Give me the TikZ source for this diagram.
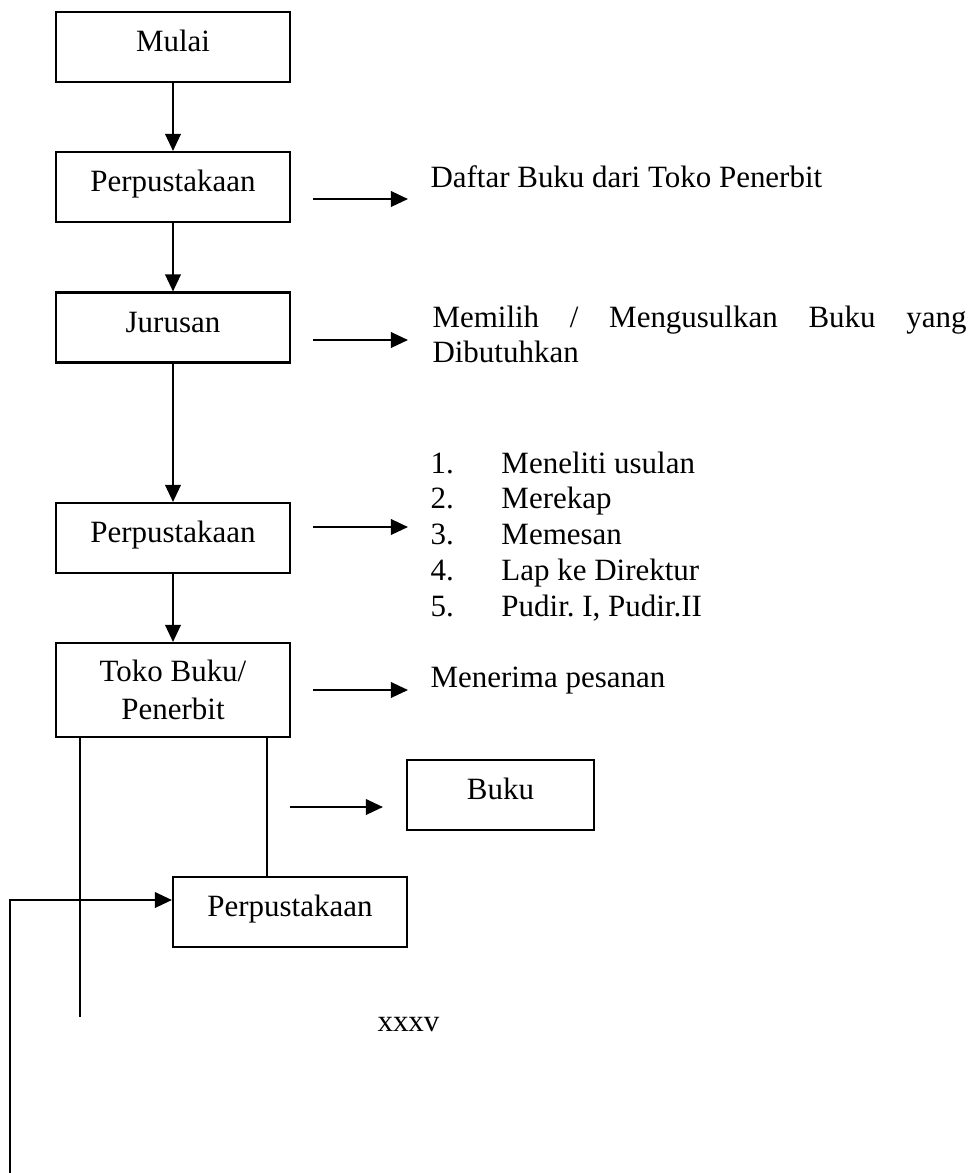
\documentclass[tikz,border=0pt]{standalone}
\usepackage{fontspec}
\setmainfont{Liberation Serif}
\usetikzlibrary{arrows.meta}
\frenchspacing
\newdimen\pxu
\pxu=0.3875pt
\tikzset{
  every node/.style={font=\fontsize{12pt}{13.9pt}\selectfont},
  flowbox/.style={draw, line width=0.8pt, rectangle, minimum width=234\pxu,
    minimum height=70\pxu, inner sep=0pt, text height=8.5pt, text depth=5pt},
  twobox/.style={draw, line width=0.8pt, rectangle, minimum width=234\pxu,
    minimum height=94\pxu, inner sep=0pt, align=center},
  sidetext/.style={anchor=base west, inner sep=0pt},
  flow/.style={line width=0.8pt, -{Triangle[length=6.6pt,width=6pt]}},
  plain/.style={line width=0.8pt}
}
\begin{document}
\begin{tikzpicture}[x=\pxu, y=-\pxu]
\useasboundingbox (0,0) rectangle (975,1173);

% main column of steps
\node[flowbox] (mulai) at (173,47)    {Mulai};
\node[flowbox] (perp1) at (173,187)   {Perpustakaan};
\node[flowbox] (jur)   at (173,327.5) {Jurusan};
\node[flowbox] (perp2) at (173,538)   {Perpustakaan};
\node[twobox]  (toko)  at (173,690)   {Toko Buku/\\[0.8pt]Penerbit};
\node[flowbox, minimum width=187\pxu] (buku) at (500.5,795) {Buku};
\node[flowbox] (perp3) at (290,912)   {Perpustakaan};

% notes to the right of the steps
\node[sidetext] (daftar) at (430,187) {Daftar Buku dari Toko Penerbit};
\node[sidetext] (pilih) at (432,327)
  {\parbox[t]{534\pxu}{\makebox[534\pxu][s]{Memilih / Mengusulkan Buku yang}\\Dibutuhkan}};
\node[sidetext] (tugas) at (430,473)
  {\parbox[t]{300\pxu}{%
    \makebox[71\pxu][l]{1.}Meneliti usulan\\
    \makebox[71\pxu][l]{2.}Merekap\\
    \makebox[71\pxu][l]{3.}Memesan\\
    \makebox[71\pxu][l]{4.}Lap ke Direktur\\
    \makebox[71\pxu][l]{5.}Pudir. I, Pudir.II}};
\node[sidetext] (terima) at (430,687) {Menerima pesanan};
\node[sidetext] (hal) at (377,1031) {xxxv};

% ends of the free-standing arrows
\coordinate (a1s) at (313,199);  \coordinate (a1e) at (408,199);
\coordinate (a2s) at (313,340);  \coordinate (a2e) at (408,340);
\coordinate (a3s) at (313,527);  \coordinate (a3e) at (408,527);
\coordinate (a4s) at (313,690);  \coordinate (a4e) at (408,690);
\coordinate (a5s) at (290,807);
\coordinate (tl)  at (80,1017);
\coordinate (tr)  at (267,877);
\coordinate (fb)  at (10,1173);

% downward flow
\draw[flow] (mulai) -- (perp1);
\draw[flow] (perp1) -- (jur);
\draw[flow] (jur) -- (perp2);
\draw[flow] (perp2) -- (toko);

% arrows to the notes
\draw[flow] (a1s) -- (a1e);
\draw[flow] (a2s) -- (a2e);
\draw[flow] (a3s) -- (a3e);
\draw[flow] (a4s) -- (a4e);
\draw[flow] (a5s) -- ([xshift=-23\pxu, yshift=-12\pxu]buku.west);

% lines below the bookshop
\draw[plain] (toko.south -| tl) -- (tl);
\draw[plain] (toko.south -| tr) -- (tr);

% return line into the library
\draw[flow] (fb) |- ([yshift=12\pxu]perp3.west);
\end{tikzpicture}
\end{document}
